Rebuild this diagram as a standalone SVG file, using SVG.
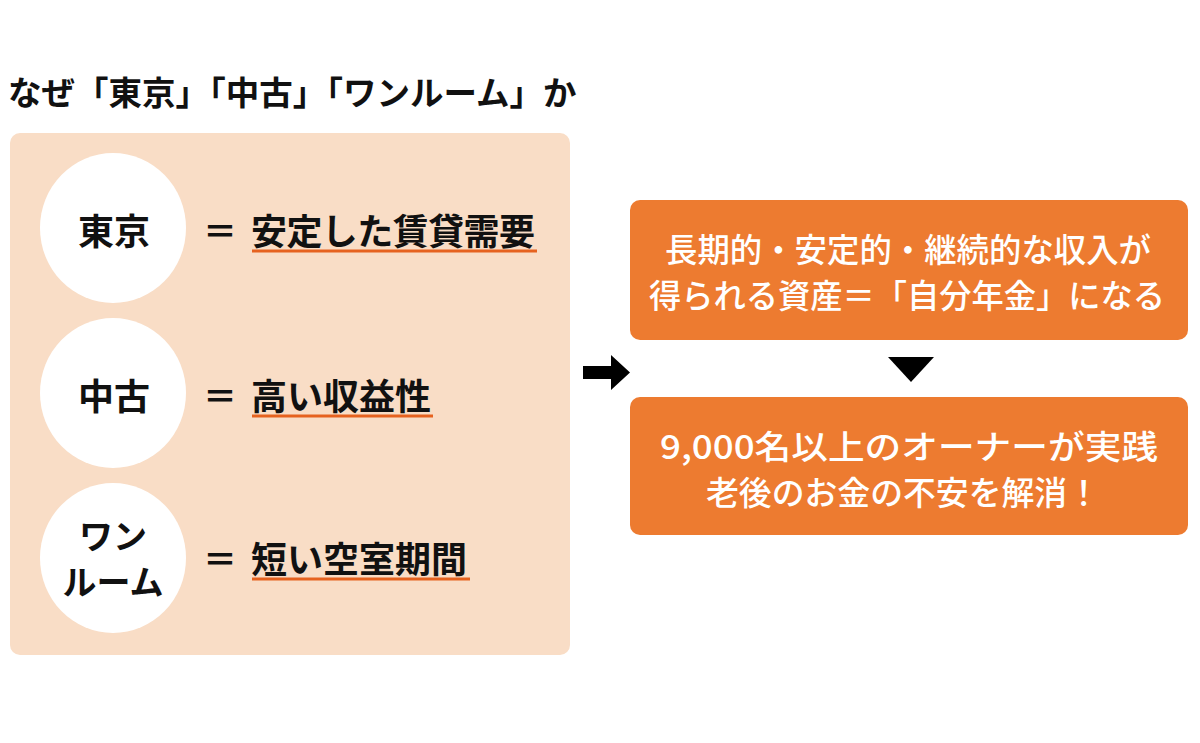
<svg xmlns="http://www.w3.org/2000/svg" width="1200" height="743" viewBox="0 0 1200 743">
<style>
text{font-family:"Noto Sans CJK JP","Noto Sans CJK SC",sans-serif;dominant-baseline:central}
.b{font-weight:bold;fill:#111}
.lbl{font-size:36px;font-weight:bold;fill:#111;text-anchor:middle}
.val{font-size:36px;font-weight:bold;fill:#111}
.eq{font-size:34px;font-weight:bold;fill:#111}
.ul{stroke:#E6621F;stroke-width:3}
.circ{fill:#fff}
.obox{fill:#ED7B30}
.wt{font-size:33px;fill:#fff;text-anchor:middle;font-weight:500}
</style>
<rect width="1200" height="743" fill="#fff"/>
<text id="title" x="8" y="90" class="b" style="font-size:33.5px">なぜ「東京」「中古」「ワンルーム」か</text>
<rect id="panel" x="10" y="133" width="560" height="522" rx="10" fill="#F9DDC6"/>
<g id="tokyo">
<ellipse cx="113" cy="228" rx="73" ry="75" class="circ"/>
<text x="114" y="229" class="lbl">東京</text>
<text x="203" y="229" class="eq">＝</text>
<text x="251" y="229" class="val" textLength="284" lengthAdjust="spacing">安定した賃貸需要</text>
<line x1="252" y1="251" x2="537" y2="251" class="ul"/>
</g>
<g id="chuko">
<ellipse cx="113" cy="393" rx="73" ry="75" class="circ"/>
<text x="114" y="394" class="lbl">中古</text>
<text x="203" y="394" class="eq">＝</text>
<text x="251" y="394" class="val">高い収益性</text>
<line x1="252" y1="416" x2="433" y2="416" class="ul"/>
</g>
<g id="oneroom">
<ellipse cx="113" cy="558" rx="73" ry="75" class="circ"/>
<text x="113" y="534" class="lbl" style="font-size:34px">ワン</text>
<text x="113" y="580" class="lbl" style="font-size:34px">ルーム</text>
<text x="203" y="557" class="eq">＝</text>
<text x="251" y="557" class="val">短い空室期間</text>
<line x1="252" y1="579" x2="470" y2="579" class="ul"/>
</g>
<g id="connectors">
<polygon points="583,366 611,366 611,355 630,372.5 611,390 611,379 583,379" fill="#000"/>
<polygon points="888,357 934,357 911,382" fill="#000"/>
</g>
<g id="box1">
<rect x="630" y="200" width="558" height="140" rx="10" class="obox"/>
<text x="908" y="248" class="wt" textLength="486" lengthAdjust="spacingAndGlyphs">長期的・安定的・継続的な収入が</text>
<text x="907" y="294" class="wt" textLength="516" lengthAdjust="spacingAndGlyphs">得られる資産＝「自分年金」になる</text>
</g>
<g id="box2">
<rect x="630" y="397" width="558" height="138" rx="10" class="obox"/>
<text x="909" y="445" class="wt" textLength="498" lengthAdjust="spacingAndGlyphs">9,000名以上のオーナーが実践</text>
<text x="903" y="491" class="wt" textLength="394" lengthAdjust="spacingAndGlyphs">老後のお金の不安を解消！</text>
</g>
</svg>
